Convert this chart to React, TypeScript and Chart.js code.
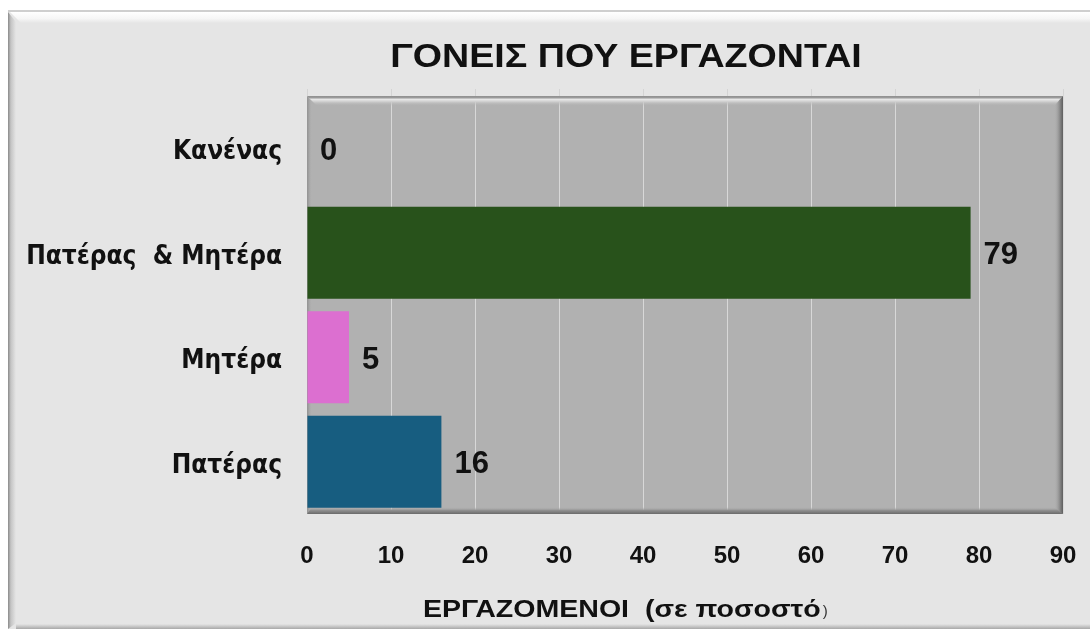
import React, { useEffect, useRef } from "react";
import { Chart, registerables } from "chart.js";

Chart.register(...registerables);

const categories = ["Κανένας", "Πατέρας  & Μητέρα", "Μητέρα", "Πατέρας"];
const values = [0, 79, 5, 16];
const barColors = ["#8c8c8c", "#28521b", "#dc6fd0", "#175d80"];
const xTicks = [0, 10, 20, 30, 40, 50, 60, 70, 80, 90];
const chartTitle = "ΓΟΝΕΙΣ ΠΟΥ ΕΡΓΑΖΟΝΤΑΙ";
const axisTitleMain = "ΕΡΓΑΖΟΜΕΝΟΙ  (σε ποσοστό";
const axisTitleEnd = ")";

const W = 1090;
const H = 631;

function stretchedText(ctx: any, text: string, x: number, y: number, sx: number, align: string) {
  ctx.save();
  ctx.translate(x, y);
  ctx.scale(sx, 1);
  ctx.textAlign = align;
  ctx.fillText(text, 0, 0);
  ctx.restore();
}

const backgroundPlugin = {
  id: "bgPanels",
  beforeDraw(chart: any) {
    const { ctx, chartArea } = chart;
    ctx.save();
    ctx.fillStyle = "#ffffff";
    ctx.fillRect(0, 0, W, H);
    const px = 8, py = 10, pr = W, pb = 629;
    ctx.fillStyle = "#e5e5e5";
    ctx.fillRect(px, py, pr - px, pb - py);
    ctx.fillStyle = "#cfcfcf";
    ctx.fillRect(px, py, pr - px, 2);
    let g = ctx.createLinearGradient(0, py + 2, 0, py + 13);
    g.addColorStop(0, "#ffffff");
    g.addColorStop(0.6, "#f6f6f6");
    g.addColorStop(1, "#e5e5e5");
    ctx.fillStyle = g;
    ctx.beginPath();
    ctx.moveTo(px + 2, py + 2);
    ctx.lineTo(pr, py + 2);
    ctx.lineTo(pr, py + 13);
    ctx.lineTo(px + 13, py + 13);
    ctx.closePath();
    ctx.fill();
    g = ctx.createLinearGradient(px, 0, px + 8, 0);
    g.addColorStop(0, "#8a8a8a");
    g.addColorStop(0.35, "#c4c4c4");
    g.addColorStop(1, "#e5e5e5");
    ctx.fillStyle = g;
    ctx.beginPath();
    ctx.moveTo(px, py + 2);
    ctx.lineTo(px + 8, py + 12);
    ctx.lineTo(px + 8, pb - 6);
    ctx.lineTo(px, pb);
    ctx.closePath();
    ctx.fill();
    g = ctx.createLinearGradient(0, pb - 5, 0, pb);
    g.addColorStop(0, "#e5e5e5");
    g.addColorStop(1, "#a8a8a8");
    ctx.fillStyle = g;
    ctx.fillRect(px + 8, pb - 5, pr - px - 8, 5);

    const { left, top, right, bottom } = chartArea;
    ctx.fillStyle = "#b1b1b1";
    ctx.fillRect(left, top, right - left, bottom - top);
    const xs = chart.scales.x;
    ctx.strokeStyle = "#d4d4d4";
    ctx.lineWidth = 1;
    xTicks.forEach((v) => {
      const x = Math.round(xs.getPixelForValue(v)) + 0.5;
      ctx.beginPath();
      ctx.moveTo(x, top - 7);
      ctx.lineTo(x, top);
      ctx.stroke();
    });
    ctx.restore();
  },
  beforeDatasetsDraw(chart: any) {
    const { ctx, chartArea } = chart;
    const { left, top, right, bottom } = chartArea;
    ctx.save();
    let g = ctx.createLinearGradient(0, top, 0, top + 10);
    g.addColorStop(0, "#8f8f8f");
    g.addColorStop(0.15, "#9a9a9a");
    g.addColorStop(0.35, "#e6e6e6");
    g.addColorStop(0.55, "#d0d0d0");
    g.addColorStop(1, "rgba(177,177,177,0)");
    ctx.fillStyle = g;
    ctx.beginPath();
    ctx.moveTo(left, top);
    ctx.lineTo(right, top);
    ctx.lineTo(right - 8, top + 10);
    ctx.lineTo(left + 10, top + 10);
    ctx.closePath();
    ctx.fill();
    g = ctx.createLinearGradient(left, 0, left + 5, 0);
    g.addColorStop(0, "#8c8c8c");
    g.addColorStop(1, "rgba(177,177,177,0)");
    ctx.fillStyle = g;
    ctx.beginPath();
    ctx.moveTo(left, top);
    ctx.lineTo(left + 5, top + 6);
    ctx.lineTo(left + 5, bottom - 4);
    ctx.lineTo(left, bottom);
    ctx.closePath();
    ctx.fill();
    g = ctx.createLinearGradient(right - 9, 0, right, 0);
    g.addColorStop(0, "rgba(177,177,177,0)");
    g.addColorStop(0.6, "#8e8e8e");
    g.addColorStop(1, "#5e5e5e");
    ctx.fillStyle = g;
    ctx.beginPath();
    ctx.moveTo(right, top);
    ctx.lineTo(right, bottom);
    ctx.lineTo(right - 9, bottom - 6);
    ctx.lineTo(right - 9, top + 10);
    ctx.closePath();
    ctx.fill();
    g = ctx.createLinearGradient(0, bottom - 7, 0, bottom);
    g.addColorStop(0, "rgba(177,177,177,0)");
    g.addColorStop(0.5, "#8e8e8e");
    g.addColorStop(1, "#6a6a6a");
    ctx.fillStyle = g;
    ctx.beginPath();
    ctx.moveTo(left, bottom);
    ctx.lineTo(right, bottom);
    ctx.lineTo(right - 9, bottom - 7);
    ctx.lineTo(left + 5, bottom - 7);
    ctx.closePath();
    ctx.fill();
    ctx.restore();
  },
  afterDatasetsDraw(chart: any) {
    const { ctx } = chart;
    ctx.save();
    const meta = chart.getDatasetMeta(0);
    ctx.fillStyle = "#111111";
    ctx.font = "bold 31px 'Liberation Sans', Arial, sans-serif";
    ctx.textBaseline = "middle";
    meta.data.forEach((bar: any, i: number) => {
      stretchedText(ctx, String(values[i]), bar.x + 13, bar.y + 3, 1.0, "left");
    });
    ctx.textBaseline = "alphabetic";
    ctx.font = "bold 33px 'Liberation Sans', Arial, sans-serif";
    stretchedText(ctx, chartTitle, 626, 67, 1.14, "center");
    ctx.font = "bold 24px 'Liberation Sans', Arial, sans-serif";
    const sx = 1.19;
    const mainW = ctx.measureText(axisTitleMain).width * sx;
    const startX = 423;
    stretchedText(ctx, axisTitleMain, startX, 617, sx, "left");
    ctx.font = "15px 'Liberation Sans', Arial, sans-serif";
    ctx.fillStyle = "#333333";
    stretchedText(ctx, axisTitleEnd, startX + mainW + 2, 616, 1.0, "left");
    ctx.restore();
  },
};

export default function App() {
  const ref = useRef<HTMLCanvasElement | null>(null);
  useEffect(() => {
    if (!ref.current) return;
    const chart = new Chart(ref.current, {
      type: "bar",
      data: {
        labels: categories,
        datasets: [
          {
            data: values,
            backgroundColor: barColors,
            borderWidth: 0,
            barPercentage: 0.88,
            categoryPercentage: 1,
          },
        ],
      },
      options: {
        indexAxis: "y",
        responsive: false,
        animation: false,
        layout: { padding: { top: 96, right: 27, left: 0, bottom: 0 } },
        plugins: {
          legend: { display: false },
          title: { display: false },
          tooltip: { enabled: false },
        },
        scales: {
          x: {
            type: "linear",
            min: 0,
            max: 90,
            afterBuildTicks(scale: any) {
              scale.ticks = xTicks.map((v) => ({ value: v }));
            },
            afterFit(scale: any) {
              scale.height = H - 514;
              scale.paddingLeft = 0;
              scale.paddingRight = 0;
            },
            grid: {
              color: "#d8d8d8",
              lineWidth: 1,
              drawTicks: false,
            },
            border: { display: false },
            ticks: {
              padding: 28,
              color: "#111111",
              font: { family: "'Liberation Sans', Arial, sans-serif", size: 24, weight: "bold" },
              maxRotation: 0,
            },
          },
          y: {
            afterFit(scale: any) {
              scale.width = 307;
              scale.paddingTop = 0;
              scale.paddingBottom = 0;
            },
            grid: { display: false, drawTicks: false },
            border: { display: false },
            ticks: {
              padding: 25,
              labelOffset: 4,
              color: "#111111",
              font: { family: "'DejaVu Sans Condensed', 'DejaVu Sans', Verdana, sans-serif", size: 26, weight: "bold" },
            },
          },
        },
      },
      plugins: [backgroundPlugin],
    } as any);
    return () => chart.destroy();
  }, []);
  return (
    <div style={{ position: "absolute", left: 0, top: 0, width: W, height: H }}>
      <canvas ref={ref} width={W} height={H} style={{ display: "block" }} />
    </div>
  );
}
